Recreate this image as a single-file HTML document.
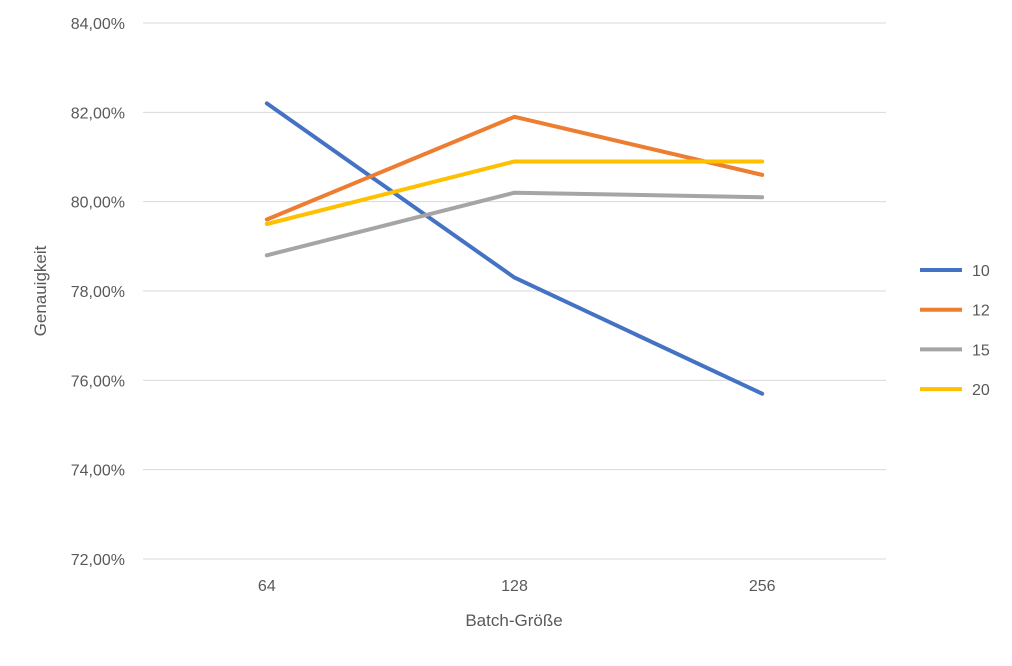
<!DOCTYPE html>
<html><head><meta charset="utf-8"><style>
body{margin:0;background:#fff;}
svg text{font-family:"Liberation Sans",sans-serif;fill:#595959;}
</style></head><body>
<svg width="1012" height="661">
<g id="grid"></g>
<g id="ylab"></g>
<g id="xlab"></g>
<g id="series"></g>
<g id="legend"></g>
<text x="0" y="0" font-size="17" text-anchor="middle" transform="translate(46,291) rotate(-90)">Genauigkeit</text>
<text x="514" y="626" font-size="17" text-anchor="middle">Batch-Größe</text>
</svg>
<script>
const categories=["64","128","256"];
const seriesNames=["10","12","15","20"];
const s10=[82.2,78.3,75.7];
const s12=[79.6,81.9,80.6];
const s15=[78.8,80.2,80.1];
const s20=[79.5,80.9,80.9];
const yTicks=[72,74,76,78,80,82,84];
const colors=["#4472C4","#ED7D31","#A5A5A5","#FFC000"];
const allSeries=[s10,s12,s15,s20];
const NS="http://www.w3.org/2000/svg";
const x0=143,x1=886,yTop=23,yBot=559,yMin=72,yMax=84;
const band=(x1-x0)/categories.length;
function xs(i){return x0+band*(i+0.5);}
function ys(v){return yBot-(v-yMin)/(yMax-yMin)*(yBot-yTop);}
function mk(t,a){const e=document.createElementNS(NS,t);for(const k in a)e.setAttribute(k,a[k]);return e;}
const grid=document.getElementById('grid'),ylab=document.getElementById('ylab'),xlab=document.getElementById('xlab');
yTicks.forEach(v=>{
 const l=mk('line',{x1:x0,x2:x1,y1:ys(v),y2:ys(v),stroke:'#D9D9D9','stroke-width':1});
 
 
 grid.appendChild(l);
 const t=mk('text',{x:125,y:ys(v)+6,'font-size':16,'text-anchor':'end'});
 t.textContent=v.toFixed(2).replace('.',',')+'%';
 
 
 ylab.appendChild(t);
});
categories.forEach((c,i)=>{
 const t=mk('text',{x:xs(i),y:591,'font-size':16,'text-anchor':'middle'});
 t.textContent=c;
 
 
 xlab.appendChild(t);
});
const sg=document.getElementById('series'),lg=document.getElementById('legend');
allSeries.forEach((s,k)=>{
 const p=mk('polyline',{points:s.map((v,i)=>xs(i)+','+ys(v)).join(' '),fill:'none',stroke:colors[k],'stroke-width':4,'stroke-linejoin':'round','stroke-linecap':'round'});
 
 
 sg.appendChild(p);
 const y=270+k*39.7;
 const ll=mk('line',{x1:920,x2:962,y1:y,y2:y,stroke:colors[k],'stroke-width':4});
 
 
 lg.appendChild(ll);
 const t=mk('text',{x:972,y:y+6,'font-size':16});
 t.textContent=seriesNames[k];
 
 
 lg.appendChild(t);
});
</script>
</body></html>
